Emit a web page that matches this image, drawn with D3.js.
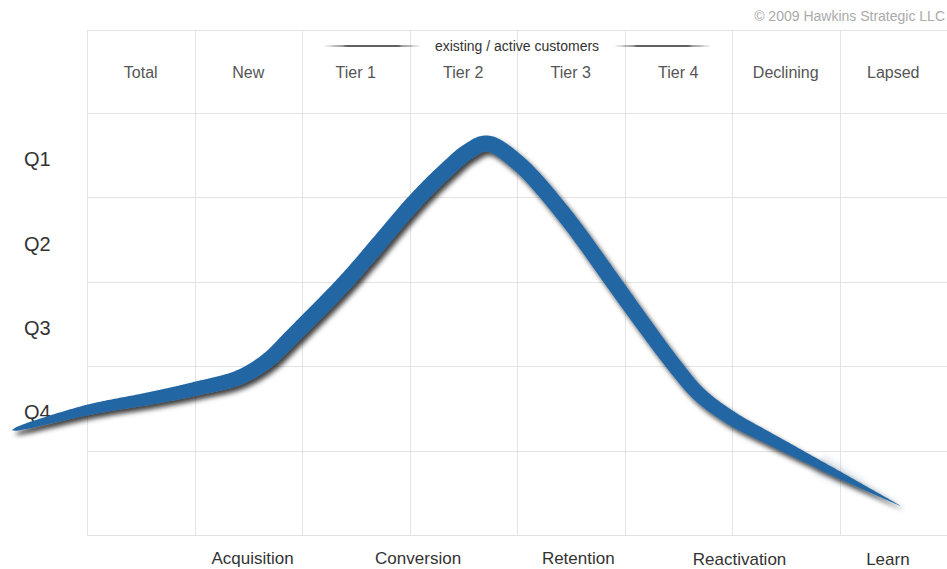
<!DOCTYPE html>
<html>
<head>
<meta charset="utf-8">
<script src="https://cdn.jsdelivr.net/npm/d3@7"></script>
<style>
  html, body { margin: 0; padding: 0; background: #fff; }
  svg { display: block; font-family: "Liberation Sans", Arial, Helvetica, sans-serif; }
</style>
</head>
<body>
<svg id="chart" width="947" height="569"></svg>
<script>
// Lifecycle columns across the top
const columns = ["Total", "New", "Tier 1", "Tier 2", "Tier 3", "Tier 4", "Declining", "Lapsed"];
// Quartile rows down the side
const quartiles = ["Q1", "Q2", "Q3", "Q4"];
// Marketing stages along the bottom, with their position in column units
const stages = ["Acquisition", "Conversion", "Retention", "Reactivation", "Learn"];
const stageAt = [1.54, 3.08, 4.57, 6.07, 7.45];
// Customer value curve: position in column units, level in quartile units (1 = Q1)
const curveCol   = [-0.70, 0.00, 0.59, 1.00, 1.42, 1.68, 1.89, 2.00, 2.42, 3.07, 3.38, 3.54, 3.72, 4.00, 4.43, 4.90, 5.08, 5.47, 5.70, 6.00, 6.26, 6.47, 7.00, 7.56];
const curveLevel = [4.26, 4.02, 3.88, 3.77, 3.63, 3.43, 3.17, 3.03, 2.48, 1.52, 1.13, 0.96, 0.86, 1.08, 1.69, 2.51, 2.83, 3.50, 3.84, 4.12, 4.30, 4.44, 4.79, 5.15];
const bracketLabel = "existing / active customers";
const credit = "\u00A9 2009 Hawkins Strategic LLC";

const W = 947, H = 569;
const gridLeft = 87, gridRight = 947, gridTop = 30, bodyTop = 113, gridBottom = 535;

const svg = d3.select("#chart");

const x = d3.scaleLinear().domain([0, columns.length]).range([gridLeft, gridRight]);
const band = d3.scaleBand().domain(columns).range([gridLeft, gridRight]);
const y = d3.scaleLinear().domain([0.5, 5.5]).range([bodyTop, gridBottom]);

const defs = svg.append("defs");

// soft drop shadow under the ribbon
const shadow = defs.append("filter").attr("id", "shadow")
  .attr("x", "-10%").attr("y", "-10%").attr("width", "120%").attr("height", "130%");
shadow.append("feGaussianBlur").attr("in", "SourceAlpha").attr("stdDeviation", 2.6).attr("result", "b");
shadow.append("feOffset").attr("in", "b").attr("dx", 3).attr("dy", 4).attr("result", "o");
shadow.append("feFlood").attr("flood-color", "#000").attr("flood-opacity", 0.75).attr("result", "c");
shadow.append("feComposite").attr("in", "c").attr("in2", "o").attr("operator", "in").attr("result", "s");
const merge = shadow.append("feMerge");
merge.append("feMergeNode").attr("in", "s");
merge.append("feMergeNode").attr("in", "SourceGraphic");

const haze = defs.append("filter").attr("id", "haze")
  .attr("x", "-20%").attr("y", "-50%").attr("width", "140%").attr("height", "200%");
haze.append("feGaussianBlur").attr("stdDeviation", 3);

const swooshBlur = defs.append("filter").attr("id", "swooshBlur")
  .attr("x", "-5%").attr("y", "-200%").attr("width", "110%").attr("height", "500%");
swooshBlur.append("feGaussianBlur").attr("stdDeviation", 0.5);

const swooshGrad = defs.append("linearGradient").attr("id", "swooshGrad")
  .attr("x1", "0%").attr("x2", "100%");
swooshGrad.append("stop").attr("offset", "0%").attr("stop-color", "#777").attr("stop-opacity", 0.3);
swooshGrad.append("stop").attr("offset", "25%").attr("stop-color", "#444").attr("stop-opacity", 0.85);
swooshGrad.append("stop").attr("offset", "75%").attr("stop-color", "#444").attr("stop-opacity", 0.85);
swooshGrad.append("stop").attr("offset", "100%").attr("stop-color", "#777").attr("stop-opacity", 0.3);

// ---- grid ----
const grid = svg.append("g").attr("stroke", "#e3e3e3").attr("stroke-width", 1.2).attr("shape-rendering", "crispEdges");
d3.range(columns.length + 1).forEach(i => {
  grid.append("line")
    .attr("x1", Math.round(x(i)) + 0.5).attr("x2", Math.round(x(i)) + 0.5)
    .attr("y1", gridTop).attr("y2", gridBottom);
});
[gridTop].concat(d3.range(0.5, 6, 1).map(v => y(v))).forEach(yy => {
  grid.append("line")
    .attr("x1", gridLeft).attr("x2", gridRight)
    .attr("y1", Math.round(yy) + 0.5).attr("y2", Math.round(yy) + 0.5);
});

// ---- column headers ----
svg.append("g").selectAll("text").data(columns).join("text")
  .attr("x", d => band(d) + band.bandwidth() / 2)
  .attr("y", (gridTop + bodyTop) / 2 + 1)
  .attr("text-anchor", "middle").attr("dominant-baseline", "central")
  .attr("font-size", 16).attr("fill", "#555")
  .text(d => d);

// ---- bracket over the active tiers ----
const bracketMid = x(4);
const bracketY = 45.5;
svg.append("text")
  .attr("x", bracketMid).attr("y", bracketY)
  .attr("text-anchor", "middle").attr("dominant-baseline", "central")
  .attr("font-size", 14).attr("fill", "#333")
  .text(bracketLabel);

function lens(x0, x1, yc, t) {
  const n = 40, top = [], bot = [];
  for (let i = 0; i <= n; i++) {
    const u = i / n;
    const xx = x0 + (x1 - x0) * u;
    const h = t * Math.pow(Math.sin(Math.PI * u), 0.45);
    top.push([xx, yc - h / 2]);
    bot.push([xx, yc + h / 2]);
  }
  return d3.line()(top.concat(bot.reverse())) + "Z";
}
const swooshes = svg.append("g").attr("filter", "url(#swooshBlur)");
swooshes.append("path").attr("d", lens(x(2.2), x(3.11), bracketY + 0.5, 2.2)).attr("fill", "url(#swooshGrad)");
swooshes.append("path").attr("d", lens(x(4.9), x(5.81), bracketY + 0.5, 2.2)).attr("fill", "url(#swooshGrad)");

// ---- row labels ----
svg.append("g").selectAll("text").data(quartiles).join("text")
  .attr("x", 24)
  .attr("y", (d, i) => y(i + 1) + 4)
  .attr("dominant-baseline", "central")
  .attr("font-size", 20).attr("fill", "#333")
  .text(d => d);

// ---- stage labels ----
svg.append("g").selectAll("text").data(stages).join("text")
  .attr("x", (d, i) => x(stageAt[i]))
  .attr("y", (d, i) => i < 3 ? 564 : 565)
  .attr("text-anchor", "middle")
  .attr("font-size", 17).attr("fill", "#333")
  .text(d => d);

// ---- copyright ----
svg.append("text")
  .attr("x", W - 2).attr("y", 21)
  .attr("text-anchor", "end")
  .attr("font-size", 14).attr("fill", "#aaa")
  .text(credit);

// ---- value ribbon ----
const pts = curveCol.map((c, i) => [x(c), y(curveLevel[i])]);
const centerD = d3.line().curve(d3.curveCatmullRom.alpha(0.5))(pts);
const probe = svg.append("path").attr("d", centerD).attr("fill", "none").attr("stroke", "none");
const node = probe.node();
const L = node.getTotalLength();
const N = 700;
const samples = d3.range(N + 1).map(i => {
  const p = node.getPointAtLength(L * i / N);
  return [p.x, p.y];
});
probe.remove();

// thickness along the curve, by column position
const thick = d3.scaleLinear()
  .domain([-0.70, -0.66, -0.55, -0.35, 0.0, 1.0, 2.0, 5.0, 6.0, 6.5, 7.0, 7.56].map(x))
  .range([0, 3.5, 6, 8, 10.5, 14, 16, 16, 14, 11, 7, 0.4])
  .clamp(true);

function ribbon(sm, scale) {
  const left = [], right = [];
  sm.forEach((p, i) => {
    const a = sm[Math.max(0, i - 1)], b = sm[Math.min(sm.length - 1, i + 1)];
    let dx = b[0] - a[0], dy = b[1] - a[1];
    const len = Math.hypot(dx, dy) || 1;
    dx /= len; dy /= len;
    const h = thick(p[0]) * scale / 2;
    left.push([p[0] - dy * h, p[1] + dx * h]);
    right.push([p[0] + dy * h, p[1] - dx * h]);
  });
  return d3.line()(left.concat(right.reverse())) + "Z";
}

const blue = "#2266a4";
// faint halo around the trailing tail
const tail = samples.filter(p => p[0] > x(6.8));
svg.append("path").attr("d", ribbon(tail, 2.4))
  .attr("fill", "#a9bdd0").attr("opacity", 0.35).attr("filter", "url(#haze)");
svg.append("path").attr("d", ribbon(samples, 1))
  .attr("fill", blue).attr("filter", "url(#shadow)");
</script>
</body>
</html>
